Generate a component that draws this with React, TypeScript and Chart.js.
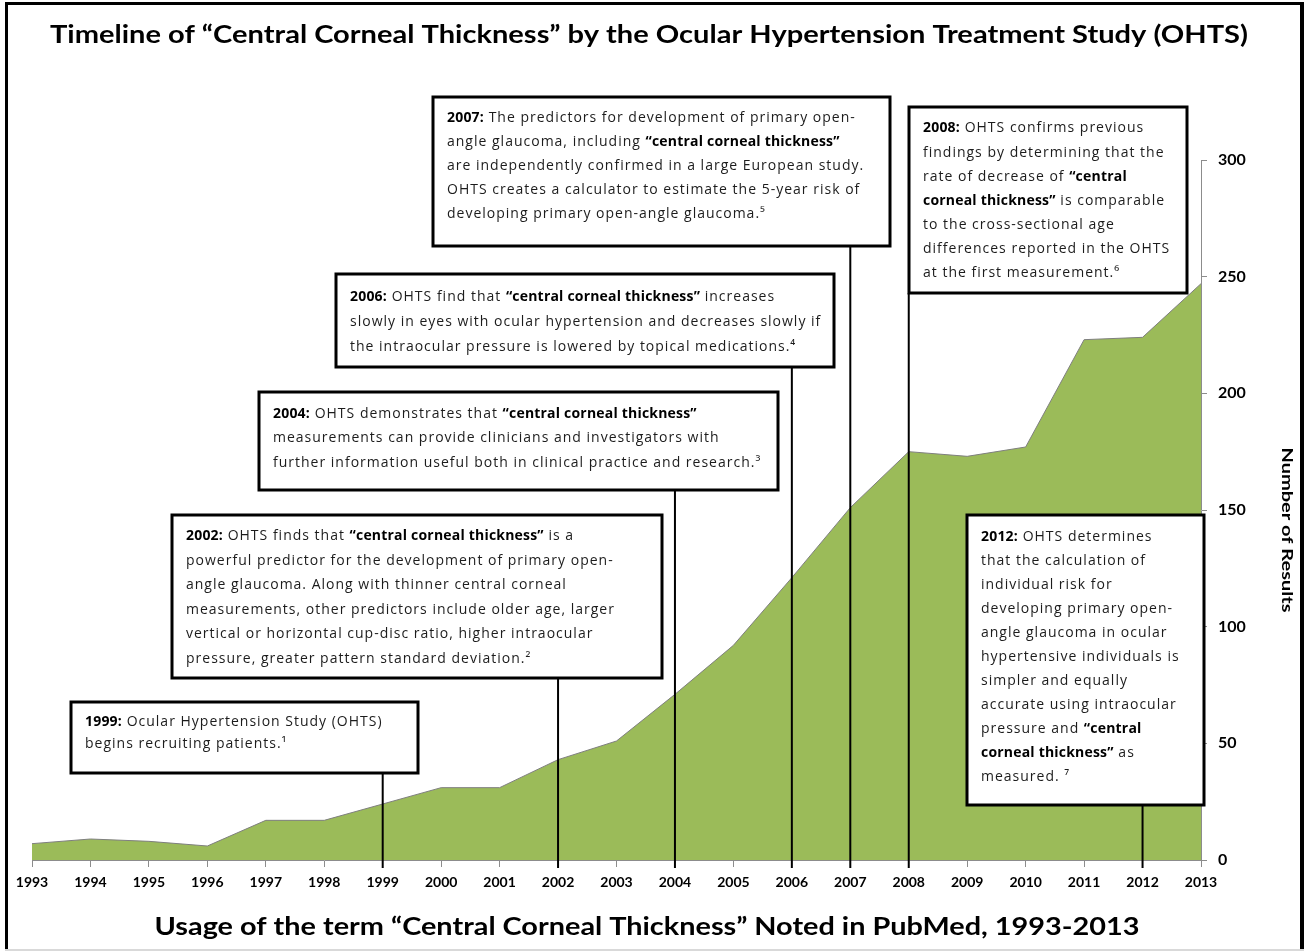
import React, { useEffect, useRef } from "react";
import { Chart, registerables } from "chart.js";

Chart.register(...registerables);

// ---------- data ----------
const years = [
  "1993", "1994", "1995", "1996", "1997", "1998", "1999", "2000", "2001", "2002", "2003",
  "2004", "2005", "2006", "2007", "2008", "2009", "2010", "2011", "2012", "2013",
];
const resultCounts = [7, 9, 8, 6, 17, 17, 24, 31, 31, 43, 51, 71, 92, 121, 151, 175, 173, 177, 223, 224, 247];
const yTickValues = [0, 50, 100, 150, 200, 250, 300];

const chartTitle = "Timeline of “Central Corneal Thickness” by the Ocular Hypertension Treatment Study (OHTS)";
const xAxisTitle = "Usage of the term “Central Corneal Thickness” Noted in PubMed, 1993-2013";
const yAxisTitle = "Number of Results";

const noteYears = ["1999", "2002", "2004", "2006", "2007", "2008", "2012"];
const note1999 = ["**1999:** Ocular Hypertension Study (OHTS)", "begins recruiting patients.¹"];
const note2002 = [
  "**2002:** OHTS finds that **“central corneal thickness”** is a",
  "powerful predictor for the development of primary open-",
  "angle glaucoma. Along with thinner central corneal",
  "measurements, other predictors include older age, larger",
  "vertical or horizontal cup-disc ratio, higher intraocular",
  "pressure, greater pattern standard deviation.²",
];
const note2004 = [
  "**2004:** OHTS demonstrates that **“central corneal thickness”**",
  "measurements can provide clinicians and investigators with",
  "further information useful both in clinical practice and research.³",
];
const note2006 = [
  "**2006:** OHTS find that **“central corneal thickness”** increases",
  "slowly in eyes with ocular hypertension and decreases slowly if",
  "the intraocular pressure is lowered by topical medications.⁴",
];
const note2007 = [
  "**2007:** The predictors for development of primary open-",
  "angle glaucoma, including **“central corneal thickness”**",
  "are independently confirmed in a large European study.",
  "OHTS creates a calculator to estimate the 5-year risk of",
  "developing primary open-angle glaucoma.⁵",
];
const note2008 = [
  "**2008:** OHTS confirms previous",
  "findings by determining that the",
  "rate of decrease of **“central**",
  "**corneal thickness”** is comparable",
  "to the cross-sectional age",
  "differences reported in the OHTS",
  "at the first measurement.⁶",
];
const note2012 = [
  "**2012:** OHTS determines",
  "that the calculation of",
  "individual risk for",
  "developing primary open-",
  "angle glaucoma in ocular",
  "hypertensive individuals is",
  "simpler and equally",
  "accurate using intraocular",
  "pressure and **“central**",
  "**corneal thickness”** as",
  "measured. ⁷",
];
const noteTexts = [note1999, note2002, note2004, note2006, note2007, note2008, note2012];

// ---------- layout (boxes: left, top, width, height, first line offset, line gap) ----------
const noteBoxes = [
  [71, 702, 347, 71, 20, 22],
  [172, 515, 490, 163, 21, 24.6],
  [259, 392, 519, 98, 22, 24.5],
  [336, 274, 498, 93, 23, 25],
  [433, 97, 457, 149, 21.5, 24],
  [909, 107, 278, 186, 21.5, 24.1],
  [967, 515, 237, 290, 22, 24],
];

const TICK_FONT = '"Liberation Sans Narrow", "Arial Narrow", Lato, sans-serif';
const TITLE_FONT = 'Lato, "Open Sans", sans-serif';
const NOTE_FONT = '"Open Sans", Lato, sans-serif';

function drawFitted(ctx: CanvasRenderingContext2D, text: string, cx: number, cy: number, font: string, targetW: number, rot = 0) {
  ctx.save();
  ctx.font = font;
  const w = ctx.measureText(text).width;
  ctx.translate(cx, cy);
  if (rot) ctx.rotate(rot);
  ctx.scale(targetW / w, 1);
  ctx.textAlign = "center";
  ctx.textBaseline = "middle";
  ctx.fillStyle = "#000";
  ctx.fillText(text, 0, 0);
  ctx.restore();
}

function drawRich(ctx: CanvasRenderingContext2D, line: string, x: number, y: number) {
  const parts = line.split("**");
  let cx = x;
  const anyCtx = ctx as any;
  parts.forEach((p, k) => {
    if (!p) return;
    const bold = k % 2 === 1;
    ctx.font = `${bold ? "bold " : ""}14px ${NOTE_FONT}`;
    anyCtx.letterSpacing = bold ? "0.2px" : "1px";
    ctx.fillStyle = bold ? "#000" : "#1c1c1c";
    ctx.fillText(p, cx, y);
    cx += ctx.measureText(p).width;
  });
  anyCtx.letterSpacing = "0px";
}

const overlayPlugin = {
  id: "overlay",
  afterDraw(chart: any) {
    const ctx: CanvasRenderingContext2D = chart.ctx;
    const xs = chart.scales.x;
    const ys = chart.scales.y;
    ctx.save();

    // frame
    ctx.fillStyle = "#000";
    ctx.fillRect(5, 2, 1299, 3);
    ctx.fillRect(5, 2, 3, 948);
    ctx.fillRect(1300, 2, 4, 948);
    ctx.fillStyle = "#d9d9d9";
    ctx.fillRect(5, 949, 1299, 2);

    // titles
    drawFitted(ctx, chartTitle, 649, 35, `bold 25px ${TITLE_FONT}`, 1198);
    drawFitted(ctx, xAxisTitle, 647, 927, `bold 25px ${TITLE_FONT}`, 985);
    drawFitted(ctx, yAxisTitle, 1287, 530, `bold 16px ${TITLE_FONT}`, 165, Math.PI / 2);

    // annotations
    noteYears.forEach((yr, i) => {
      const [bx, by, bw, bh, first, gap] = noteBoxes[i];
      const px = xs.getPixelForValue(years.indexOf(yr));
      ctx.strokeStyle = "#000";
      ctx.lineWidth = 2;
      ctx.beginPath();
      ctx.moveTo(px, by + bh);
      ctx.lineTo(px, ys.bottom + 8);
      ctx.stroke();

      ctx.fillStyle = "#fff";
      ctx.fillRect(bx, by, bw, bh);
      ctx.lineWidth = 3;
      ctx.strokeRect(bx, by, bw, bh);

      ctx.textAlign = "left";
      ctx.textBaseline = "middle";
      noteTexts[i].forEach((line, j) => {
        drawRich(ctx, line, bx + 14, by + first + j * gap);
      });
    });
    ctx.restore();
  },
};

export default function App() {
  const canvasRef = useRef<HTMLCanvasElement | null>(null);

  useEffect(() => {
    const canvas = canvasRef.current;
    if (!canvas) return;
    const chart = new Chart(canvas, {
      type: "line",
      data: {
        labels: years,
        datasets: [
          {
            label: yAxisTitle,
            data: resultCounts,
            fill: "origin",
            backgroundColor: "#9BBB59",
            borderColor: "#7f7f7f",
            borderWidth: 1,
            pointRadius: 0,
            tension: 0,
          },
        ],
      },
      options: {
        responsive: false,
        animation: false,
        devicePixelRatio: 1,
        layout: { padding: { left: 32, right: 0, top: 160, bottom: 62 } },
        plugins: {
          legend: { display: false },
          title: { display: false },
          tooltip: { enabled: false },
        },
        scales: {
          x: {
            type: "category",
            offset: false,
            grid: { display: true, drawOnChartArea: false, drawTicks: true, tickLength: 7, color: "#8c8c8c" },
            border: { display: true, color: "#8c8c8c", width: 1 },
            ticks: {
              autoSkip: false,
              maxRotation: 0,
              padding: 7,
              color: "#000",
              font: { family: TICK_FONT, weight: "bold", size: 14 },
            },
            afterFit: (s: any) => {
              s.height = 30;
            },
          },
          y: {
            position: "right",
            min: 0,
            max: 300,
            afterBuildTicks: (s: any) => {
              s.ticks = yTickValues.map((v) => ({ value: v }));
            },
            grid: { display: true, drawOnChartArea: false, drawTicks: true, tickLength: 6, color: "#8c8c8c" },
            border: { display: true, color: "#8c8c8c", width: 1 },
            ticks: {
              padding: 11,
              color: "#000",
              font: { family: TICK_FONT, weight: "bold", size: 16 },
            },
            afterFit: (s: any) => {
              s.width = 103;
            },
          },
        },
      },
      plugins: [overlayPlugin],
    });
    return () => chart.destroy();
  }, []);

  return (
    <div style={{ position: "absolute", left: 0, top: 0, width: 1304, height: 952, background: "#fff" }}>
      <canvas ref={canvasRef} width={1304} height={952} style={{ display: "block" }} />
    </div>
  );
}
